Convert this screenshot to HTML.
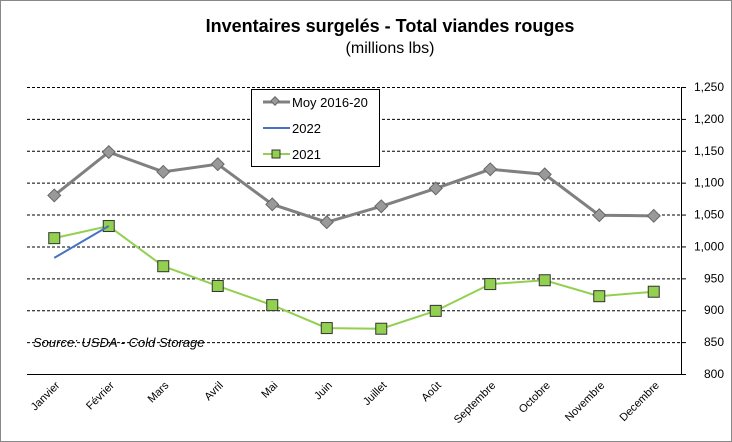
<!DOCTYPE html>
<html><head><meta charset="utf-8"><style>
body{margin:0;background:#fff;}
svg{display:block;font-family:"Liberation Sans",Arial,sans-serif;}
</style></head><body>
<svg id="c" width="732" height="442">
<rect x="0.5" y="0.5" width="731" height="441" fill="#fff" stroke="#888"/>
<text x="390" y="32" text-anchor="middle" font-size="18" font-weight="bold">Inventaires surgelés - Total viandes rouges</text>
<text x="390" y="53" text-anchor="middle" font-size="16">(millions lbs)</text>
<g id="grid"></g><g id="axes"></g><g id="series"></g>
<text x="33" y="347" font-size="13" font-style="italic">Source: USDA - Cold Storage</text>
<g>
<rect x="251.5" y="89.5" width="128" height="77" fill="#fff" stroke="#000"/>
<g><line x1="263" y1="102" x2="290" y2="102" stroke="#808080" stroke-width="3"/><rect x="272" y="98" width="6" height="6" transform="rotate(45 275 101)" fill="#999" stroke="#666"/><text x="292" y="107" font-size="13">Moy 2016-20</text></g>
<g><line x1="263" y1="128" x2="290" y2="128" stroke="#4472c4" stroke-width="2"/><text x="292" y="133" font-size="13">2022</text></g>
<g><line x1="263" y1="154" x2="290" y2="154" stroke="#92d050" stroke-width="2"/><rect x="272" y="150" width="8" height="8" fill="#92d050" stroke="#333"/><text x="292" y="159" font-size="13">2021</text></g>
</g>
</svg>
<script>
const categories=["Janvier","Février","Mars","Avril","Mai","Juin","Juillet","Août","Septembre","Octobre","Novembre","Decembre"];
const moy=[1080,1148,1117,1129,1066,1038,1063,1091,1121,1113,1049,1048];
const y2021=[1013,1032,969,938,908,872,871,899,941,947,922,929];
const y2022=[982,1032];
const yTicks=[800,850,900,950,1000,1050,1100,1150,1200,1250];
const NS="http://www.w3.org/2000/svg";
const L=27,R=681,T=87,B=374,ymin=800,ymax=1250;
const xs=i=>L+(R-L)/categories.length*(i+0.5);
const ys=v=>B-(v-ymin)/(ymax-ymin)*(B-T);
function mk(t,a,p){const e=document.createElementNS(NS,t);for(const k in a)e.setAttribute(k,a[k]);p.appendChild(e);return e;}
const grid=document.getElementById('grid'),axes=document.getElementById('axes'),ser=document.getElementById('series');
yTicks.forEach(v=>{
 if(v>ymin){const g=mk('line',{x1:L,x2:R,y1:ys(v)+0.5,y2:ys(v)+0.5,stroke:'#000','stroke-dasharray':'3,2','stroke-width':1},grid);
 
 }
 const t=mk('text',{x:724,y:ys(v)+4,'text-anchor':'end','font-size':12},axes);t.textContent=v.toLocaleString('en-US');
 
 
 mk('line',{x1:R,x2:R+5,y1:ys(v)+0.5,y2:ys(v)+0.5,stroke:'#000'},axes);
});
mk('line',{x1:L,x2:R,y1:B+0.5,y2:B+0.5,stroke:'#000'},axes);
mk('line',{x1:R+0.5,x2:R+0.5,y1:T,y2:B,stroke:'#000'},axes);
categories.forEach((c,i)=>{
 const x=xs(i);
 const t=mk('text',{x:x+6,y:B+12,'text-anchor':'end','font-size':11,transform:`rotate(-45 ${x+6} ${B+12})`},axes);t.textContent=c;
 
 
});
function line(vals,color,w,name){const p=mk('polyline',{points:vals.map((v,i)=>xs(i)+','+ys(v)).join(' '),fill:'none',stroke:color,'stroke-width':w},ser);
 
 }
line(moy,'#808080',3,'line-moy');
moy.forEach((v,i)=>{const m=mk('rect',{x:xs(i)-4.5,y:ys(v)-4.5,width:9,height:9,fill:'#999',stroke:'#666',transform:`rotate(45 ${xs(i)} ${ys(v)})`},ser);
 
 });
line(y2021,'#92d050',2,'line-2021');
y2021.forEach((v,i)=>{const m=mk('rect',{x:xs(i)-5.5,y:ys(v)-5.5,width:11,height:11,fill:'#92d050',stroke:'#333'},ser);
 
 });
line(y2022,'#4472c4',2,'line-2022');
</script>
</body></html>
